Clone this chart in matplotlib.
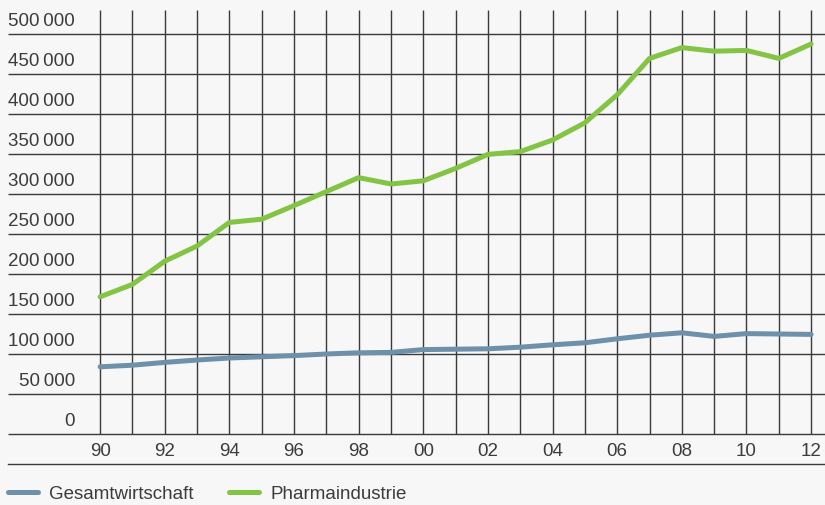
import matplotlib.pyplot as plt
from matplotlib.lines import Line2D

# Beschäftigte 1990-2012
years = list(range(1990, 2013))
gesamt = [84000, 86000, 89500, 92500, 95000, 96500, 98000, 100000, 101500, 102000,
          105500, 106000, 106500, 108500, 111500, 114000, 119000, 123500, 126500,
          122000, 125500, 125000, 124500]
pharma = [171500, 187000, 216000, 235000, 264500, 268500, 285500, 303000, 320500,
          312500, 316500, 332000, 349500, 353000, 367500, 389000, 424000, 469500,
          483000, 478500, 479500, 469500, 487500]
yticks = list(range(0, 500001, 50000))
xlabels = [str(y)[2:] if y % 2 == 0 else "" for y in years]

c_gesamt = "#6f90aa"
c_pharma = "#84c444"
c_grid = "#3a3a3a"
c_text = "#3c3c3c"
bg = "#f7f7f7"

plt.rcParams['font.family'] = ['Liberation Sans', 'DejaVu Sans']

fig = plt.figure(figsize=(8.25, 5.05), dpi=100, facecolor=bg)
ax = fig.add_axes([8/825, 71/505, 817/825, 424/505], facecolor=bg)

xmin, xmax = 1987.15, 2012.43
ytop = 530000
ax.set_xlim(xmin, xmax)
ax.set_ylim(0, ytop)

for s in ax.spines.values():
    s.set_visible(False)

# grid
ax.hlines(yticks, xmin, xmax + 1, color=c_grid, lw=1.0, clip_on=False, zorder=1)
ax.vlines(years, 0, ytop, color=c_grid, lw=1.0, zorder=1)

ax.plot(years, gesamt, color=c_gesamt, lw=3.6, solid_capstyle='round',
        label="Gesamtwirtschaft", zorder=3)
ax.plot(years, pharma, color=c_pharma, lw=3.6, solid_capstyle='round',
        label="Pharmaindustrie", zorder=3)

# y labels sit above their gridline
ax.set_yticks([])
for v in yticks:
    lab = f"{v:,}".replace(",", "\u2009")
    ax.annotate(lab, xy=(0.082, v), xycoords=('axes fraction', 'data'),
                xytext=(0, 5.8), textcoords='offset points',
                ha='right', va='baseline', fontsize=13.5, color=c_text)

ax.set_xticks(years)
ax.set_xticklabels(xlabels, fontsize=13.5, color=c_text)
ax.tick_params(axis='x', length=0, pad=6.3)

# separator line below the x labels
fig.add_artist(Line2D([8/825, 1.0], [41.5/505, 41.5/505], color=c_grid, lw=1.0))

fig.legend(loc='center left', bbox_to_anchor=(8/825, 11/505), ncol=2,
           frameon=False, fontsize=13.5, handlelength=1.6, handletextpad=0.6,
           columnspacing=1.9, borderpad=0, borderaxespad=0, labelcolor=c_text)

fig.savefig("out.png", dpi=100, facecolor=bg)
